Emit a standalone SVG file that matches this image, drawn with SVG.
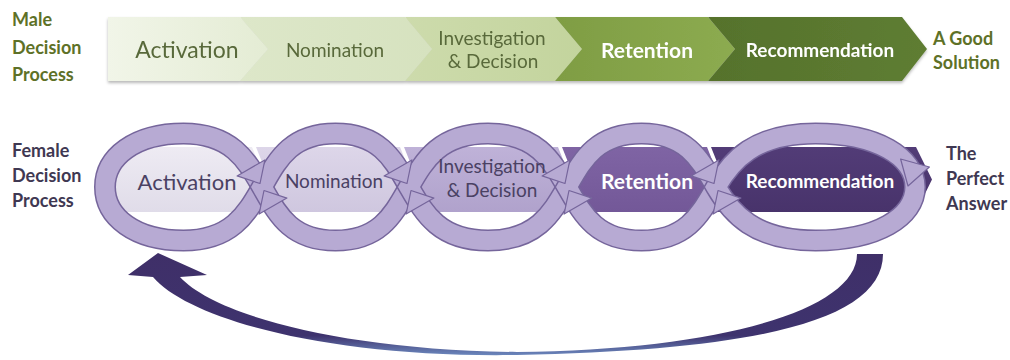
<svg xmlns="http://www.w3.org/2000/svg" width="1010" height="360" viewBox="0 0 1010 360">
<defs>
<style>
.lbl-g{font-family:Lato,"Liberation Sans",sans-serif;font-weight:bold;font-size:18px;fill:#5e7127}
.lbl-p{font-family:Lato,"Liberation Sans",sans-serif;font-weight:bold;font-size:18px;fill:#3f3852}
.t{font-family:Lato,"Liberation Sans",sans-serif;text-anchor:middle}
.tg{fill:#59693a}
.tp{fill:#4a4163}
.tw{fill:#ffffff;font-weight:bold}
.ring-o{fill:none;stroke:#75659b;stroke-width:22}
.ring-i{fill:none;stroke:#b7aad3;stroke-width:19}
.head{fill:#b7aad3;stroke:#75659b;stroke-width:1.2;stroke-linejoin:round}
</style>
<linearGradient id="g1" x1="0" y1="0" x2="1" y2="0"><stop offset="0" stop-color="#f1f5e8"/><stop offset="1" stop-color="#e4ecd4"/></linearGradient>
<linearGradient id="g2" x1="0" y1="0" x2="1" y2="0"><stop offset="0" stop-color="#dde7c9"/><stop offset="1" stop-color="#d6e2bf"/></linearGradient>
<linearGradient id="g3" x1="0" y1="0" x2="1" y2="0"><stop offset="0" stop-color="#cddbac"/><stop offset="1" stop-color="#c3d49d"/></linearGradient>
<linearGradient id="g4" x1="0" y1="0" x2="1" y2="0"><stop offset="0" stop-color="#7f9d43"/><stop offset="1" stop-color="#8cab50"/></linearGradient>
<linearGradient id="g5" x1="0" y1="0" x2="1" y2="0"><stop offset="0" stop-color="#56722c"/><stop offset="1" stop-color="#5e7d32"/></linearGradient>
<linearGradient id="p1" x1="0" y1="0" x2="0" y2="1"><stop offset="0" stop-color="#eeebf3"/><stop offset="1" stop-color="#e0dce9"/></linearGradient>
<linearGradient id="p2" x1="0" y1="0" x2="0" y2="1"><stop offset="0" stop-color="#ddd6e9"/><stop offset="1" stop-color="#cfc7df"/></linearGradient>
<linearGradient id="p3" x1="0" y1="0" x2="0" y2="1"><stop offset="0" stop-color="#bfb2d8"/><stop offset="1" stop-color="#b0a2cc"/></linearGradient>
<linearGradient id="p4" x1="0" y1="0" x2="0" y2="1"><stop offset="0" stop-color="#7f64a4"/><stop offset="1" stop-color="#735898"/></linearGradient>
<linearGradient id="p5" x1="0" y1="0" x2="0" y2="1"><stop offset="0" stop-color="#523c77"/><stop offset="1" stop-color="#48336b"/></linearGradient>
<linearGradient id="ba" gradientUnits="userSpaceOnUse" x1="0" y1="250" x2="0" y2="357"><stop offset="0" stop-color="#3f2f68"/><stop offset="0.8" stop-color="#3e336e"/><stop offset="1" stop-color="#6f8fc4"/></linearGradient>
<filter id="sh" x="-5%" y="-20%" width="110%" height="150%"><feDropShadow dx="0" dy="2" stdDeviation="1.5" flood-color="#000" flood-opacity="0.28"/></filter>
</defs>
<rect width="1010" height="360" fill="#ffffff"/>

<g id="male-label">
<text class="lbl-g" x="12" y="26">Male</text>
<text class="lbl-g" x="12" y="54">Decision</text>
<text class="lbl-g" x="12" y="81">Process</text>
</g>

<g id="male-steps" filter="url(#sh)">
<g id="m-activation"><polygon points="108,17 240,17 268,49 240,81 108,81" fill="url(#g1)"/><text class="t tg" x="187" y="58" font-size="23">Activation</text></g>
<g id="m-nomination"><polygon points="240,17 405,17 432,49 405,81 240,81 268,49" fill="url(#g2)"/><text class="t tg" x="335" y="57" font-size="19">Nomination</text></g>
<g id="m-investigation"><polygon points="405,17 555,17 582,49 555,81 405,81 432,49" fill="url(#g3)"/><text class="t tg" x="492" y="45" font-size="19">Investigation</text><text class="t tg" x="493" y="68" font-size="19">&amp; Decision</text></g>
<g id="m-retention"><polygon points="555,17 708,17 735,49 708,81 555,81 582,49" fill="url(#g4)"/><text class="t tw" x="647" y="58" font-size="21">Retention</text></g>
<g id="m-recommendation"><polygon points="708,17 902,17 927,49 902,81 708,81 735,49" fill="url(#g5)"/><text class="t tw" x="820" y="57" font-size="19">Recommendation</text></g>
</g>

<g id="male-result">
<text class="lbl-g" x="933" y="45" font-size="19">A Good</text>
<text class="lbl-g" x="933" y="69" font-size="19">Solution</text>
</g>

<g id="female-label">
<text class="lbl-p" x="12" y="157">Female</text>
<text class="lbl-p" x="12" y="182">Decision</text>
<text class="lbl-p" x="12" y="207">Process</text>
</g>

<g id="female-steps">
<polygon id="f-activation-bg" points="115,147 252,147 265,179.5 252,212 115,212" fill="url(#p1)"/>
<polygon id="f-nomination-bg" points="256,147 400,147 413,179.5 400,212 256,212 269,179.5" fill="url(#p2)"/>
<polygon id="f-investigation-bg" points="404,147 558,147 571,179.5 558,212 404,212 417,179.5" fill="url(#p3)"/>
<polygon id="f-retention-bg" points="562,147 707,147 720,179.5 707,212 562,212 575,179.5" fill="url(#p4)"/>
<polygon id="f-recommendation-bg" points="711,147 916,147 932,179.5 916,212 711,212 724,179.5" fill="url(#p5)"/>
</g>

<g id="connectors">
<g id="cycle-arrows">
<path class="ring-o" d="M105,187 C105,157 134.8,133.5 183.5,133.5 C232.2,133.5 247,161 262,187 C247,213 232.2,240.5 183.5,240.5 C134.8,240.5 105,217 105,187 Z"/>
<path class="ring-i" d="M105,187 C105,157 134.8,133.5 183.5,133.5 C232.2,133.5 247,161 262,187 C247,213 232.2,240.5 183.5,240.5 C134.8,240.5 105,217 105,187 Z"/>
<path class="ring-o" d="M262,187 C277,161 289.9,133.5 335.5,133.5 C381.1,133.5 394,161 409,187 C394,213 381.1,240.5 335.5,240.5 C289.9,240.5 277,213 262,187 Z"/>
<path class="ring-i" d="M262,187 C277,161 289.9,133.5 335.5,133.5 C381.1,133.5 394,161 409,187 C394,213 381.1,240.5 335.5,240.5 C289.9,240.5 277,213 262,187 Z"/>
<path class="ring-o" d="M409,187 C424,161 439,133.5 488,133.5 C537,133.5 552,161 567,187 C552,213 537,240.5 488,240.5 C439,240.5 424,213 409,187 Z"/>
<path class="ring-i" d="M409,187 C424,161 439,133.5 488,133.5 C537,133.5 552,161 567,187 C552,213 537,240.5 488,240.5 C439,240.5 424,213 409,187 Z"/>
<path class="ring-o" d="M567,187 C582,161 595.3,133.5 641.5,133.5 C687.7,133.5 701,161 716,187 C701,213 687.7,240.5 641.5,240.5 C595.3,240.5 582,213 567,187 Z"/>
<path class="ring-i" d="M567,187 C582,161 595.3,133.5 641.5,133.5 C687.7,133.5 701,161 716,187 C701,213 687.7,240.5 641.5,240.5 C595.3,240.5 582,213 567,187 Z"/>
<path class="ring-o" d="M716,187 C731,161 753.8,133.5 815.5,133.5 C877.2,133.5 915,157 915,187 C915,217 877.2,240.5 815.5,240.5 C753.8,240.5 731,213 716,187 Z"/>
<path class="ring-i" d="M716,187 C731,161 753.8,133.5 815.5,133.5 C877.2,133.5 915,157 915,187 C915,217 877.2,240.5 815.5,240.5 C753.8,240.5 731,213 716,187 Z"/>
<polygon class="head" points="264.9,159.9 237.1,175.9 260,183.5"/>
<polygon class="head" points="286.9,198.1 259.1,214.1 264,190.5"/>
<polygon class="head" points="411.9,159.9 384.1,175.9 407,183.5"/>
<polygon class="head" points="433.9,198.1 406.1,214.1 411,190.5"/>
<polygon class="head" points="569.9,159.9 542.1,175.9 565,183.5"/>
<polygon class="head" points="591.9,198.1 564.1,214.1 569,190.5"/>
<polygon class="head" points="718.9,159.9 691.1,175.9 714,183.5"/>
<polygon class="head" points="740.9,198.1 713.1,214.1 718,190.5"/>
<polygon class="head" points="929.4,167 900.6,159 908,186"/>
</g>
<path id="return-arrow" fill="url(#ba)" d="M857,254 L883,254 C883,320 760,350 517,355 C330,358 190,320 153,277 L128,275 L158,253 L207,275 L180,277 C215,315 340,350 517,352 C720,350 857,310 857,254 Z"/>
</g>

<g id="female-step-labels">
<text class="t tp" x="187" y="190" font-size="22">Activation</text>
<text class="t tp" x="334" y="188" font-size="19">Nomination</text>
<text class="t tp" x="492" y="173" font-size="19">Investigation</text>
<text class="t tp" x="492" y="197" font-size="19">&amp; Decision</text>
<text class="t tw" x="647" y="189" font-size="21">Retention</text>
<text class="t tw" x="820" y="188" font-size="19">Recommendation</text>
</g>

<g id="female-result">
<text class="lbl-p" x="946" y="160" font-size="17">The</text>
<text class="lbl-p" x="946" y="185" font-size="17">Perfect</text>
<text class="lbl-p" x="946" y="210" font-size="17">Answer</text>
</g>
</svg>
